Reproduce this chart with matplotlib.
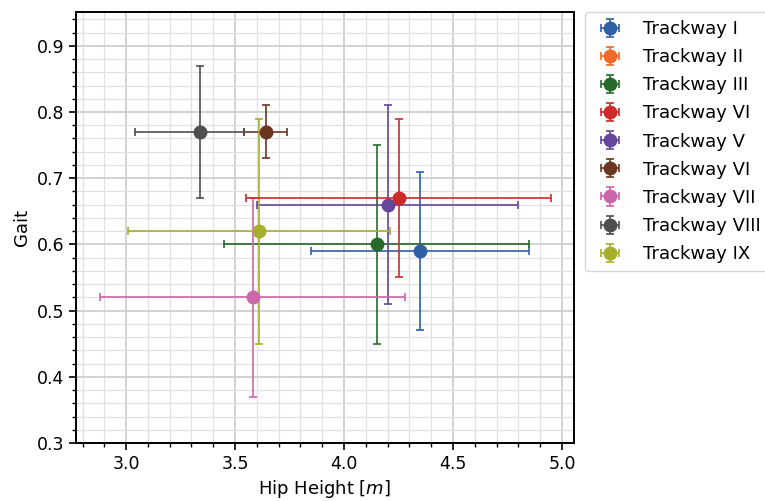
import numpy as np
import matplotlib.pyplot as plt
from matplotlib.ticker import MultipleLocator

labels = ['Trackway I', 'Trackway II', 'Trackway III', 'Trackway VI', 'Trackway V',
          'Trackway VI', 'Trackway VII', 'Trackway VIII', 'Trackway IX']
colors = ['#2f5fa5', '#f06a2a', '#27692b', '#cf2a2a', '#65469a',
          '#6b3522', '#cc66aa', '#4f4f4f', '#a7ae2b']

# hip height [m] and gait, with error extents (trackway II not visible in the figure)
hip = [4.35, np.nan, 4.15, 4.25, 4.20, 3.64, 3.58, 3.34, 3.61]
hip_lo = [0.50, np.nan, 0.70, 0.70, 0.60, 0.10, 0.70, 0.30, 0.60]
hip_hi = [0.50, np.nan, 0.70, 0.70, 0.60, 0.10, 0.70, 0.20, 0.60]
gait = [0.59, np.nan, 0.60, 0.67, 0.66, 0.77, 0.52, 0.77, 0.62]
gait_err = [0.12, np.nan, 0.15, 0.12, 0.15, 0.04, 0.15, 0.10, 0.17]

plt.rcParams['font.size'] = 12.5

fig = plt.figure(figsize=(7.65, 5.01), dpi=100)
ax = fig.add_axes([0.0993, 0.1158, 0.6510, 0.8602])

for i in range(len(labels)):
    # red one sits on top of the purple one in the original
    z = 2.5 if i == 3 else 2
    ax.errorbar([hip[i]], [gait[i]],
                xerr=[[hip_lo[i]], [hip_hi[i]]], yerr=[[gait_err[i]], [gait_err[i]]],
                fmt='o', color=colors[i], ms=9, elinewidth=1.2,
                capsize=3, capthick=1.2, label=labels[i], zorder=z)

ax.set_xlim(2.77, 5.055)
ax.set_ylim(0.3, 0.951)
ax.xaxis.set_major_locator(MultipleLocator(0.5))
ax.xaxis.set_minor_locator(MultipleLocator(0.1))
ax.yaxis.set_major_locator(MultipleLocator(0.1))
ax.yaxis.set_minor_locator(MultipleLocator(0.02))
ax.grid(which='major', color='#cfcfcf', linewidth=1.3)
ax.grid(which='minor', color='#e0e0e0', linewidth=0.9)
ax.set_axisbelow(True)
ax.tick_params(which='major', length=5, width=1.2)
ax.tick_params(which='minor', length=3, width=1.0)
for s in ax.spines.values():
    s.set_linewidth(1.4)

ax.set_xlabel('Hip Height [$m$]', fontsize=13)
ax.set_ylabel('Gait', fontsize=13)

ax.legend(loc='upper left', bbox_to_anchor=(1.022, 1.0), borderaxespad=0,
          fontsize=13, handlelength=1.9, handletextpad=0.85, labelspacing=0.56,
          borderpad=0.45)

plt.savefig('out.png', dpi=100)
